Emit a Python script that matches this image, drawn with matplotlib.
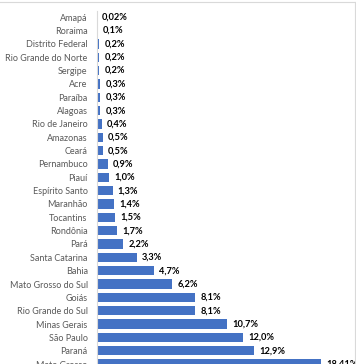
import matplotlib
matplotlib.use("Agg")
import matplotlib.pyplot as plt
from matplotlib.lines import Line2D

states = ["Amapá", "Roraima", "Distrito Federal", "Rio Grande do Norte", "Sergipe",
          "Acre", "Paraíba", "Alagoas", "Rio de Janeiro", "Amazonas", "Ceará",
          "Pernambuco", "Piauí", "Espírito Santo", "Maranhão", "Tocantins",
          "Rondônia", "Pará", "Santa Catarina", "Bahia", "Mato Grosso do Sul",
          "Goiás", "Rio Grande do Sul", "Minas Gerais", "São Paulo", "Paraná",
          "Mato Grosso"]
values = [0.02, 0.1, 0.2, 0.2, 0.2, 0.3, 0.3, 0.3, 0.4, 0.5, 0.5, 0.9, 1.0, 1.3,
          1.4, 1.5, 1.7, 2.2, 3.3, 4.7, 6.2, 8.1, 8.1, 10.7, 12.0, 12.9, 18.41]
labels = ["0,02%", "0,1%", "0,2%", "0,2%", "0,2%", "0,3%", "0,3%", "0,3%", "0,4%",
          "0,5%", "0,5%", "0,9%", "1,0%", "1,3%", "1,4%", "1,5%", "1,7%", "2,2%",
          "3,3%", "4,7%", "6,2%", "8,1%", "8,1%", "10,7%", "12,0%", "12,9%", "18,41%"]

W, H = 356, 364
fig = plt.figure(figsize=(W / 100, H / 100), dpi=100)

xmax = 20
left_px = 96.7
px_per_unit = 12.17
top_px = 10.6
bot_px = 370.7
ax = fig.add_axes([left_px / W, (H - bot_px) / H, xmax * px_per_unit / W, (bot_px - top_px) / H])

y = list(range(len(states)))
ax.barh(y, values, height=0.7, color="#4472C4")
ax.set_xlim(0, xmax)
ax.set_ylim(len(states) - 0.5, -0.5)
ax.set_yticks(y)
ax.set_yticklabels(states, fontfamily="Lato", fontsize=6.5, color="#595959")
ax.tick_params(axis="y", length=0, pad=6.5)
ax.set_xticks([])
for s in ["top", "right", "bottom"]:
    ax.spines[s].set_visible(False)
ax.spines["left"].set_color("#d9d9d9")
ax.spines["left"].set_linewidth(0.8)

for yi, v, lab in zip(y, values, labels):
    ax.annotate(lab, (v, yi), xytext=(3.8, 0), textcoords="offset points",
                ha="left", va="center", fontfamily="Lato", fontweight="bold",
                fontsize=6.7, color="#000000", annotation_clip=False)

# outer chart frame (top and right)
fig.add_artist(Line2D([0, 354.5 / W], [1 - 1.5 / H, 1 - 1.5 / H], transform=fig.transFigure,
                      color="#d9d9d9", lw=0.8))
fig.add_artist(Line2D([354.5 / W, 354.5 / W], [0, 1 - 1.5 / H], transform=fig.transFigure,
                      color="#d9d9d9", lw=0.8))

fig.savefig("out.png", dpi=100)
